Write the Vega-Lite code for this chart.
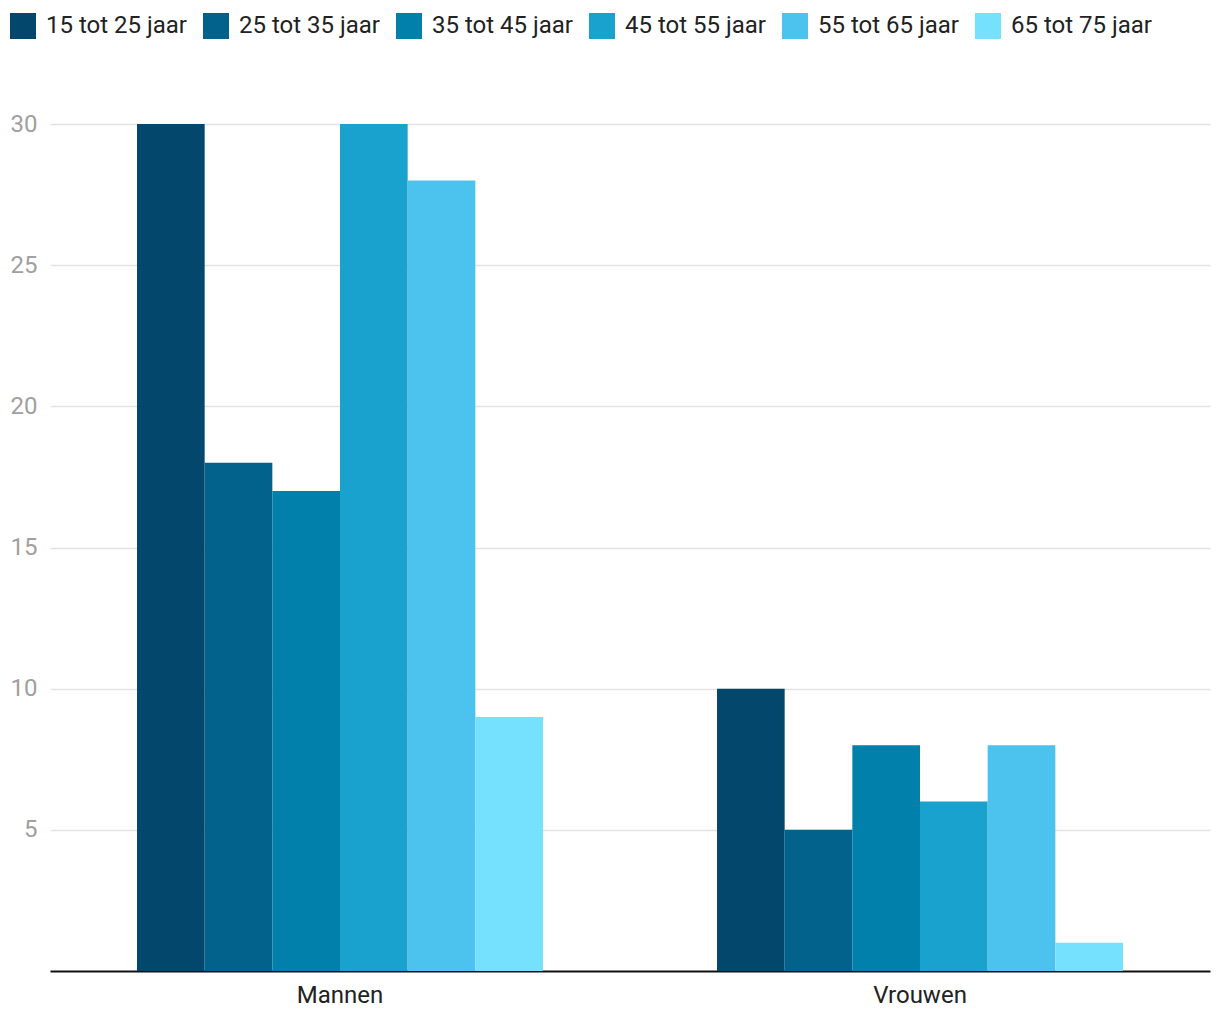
{
  "$schema": "https://vega.github.io/schema/vega-lite/v6.json",
  "width": 1160,
  "height": 847,
  "autosize": {"type": "none"},
  "padding": {"left": 50, "top": 124, "right": 10, "bottom": 49},
  "background": "#ffffff",
  "config": {
    "font": "Roboto",
    "view": {"stroke": null}
  },
  "data": {
    "values": [
      {"geslacht": "Mannen", "leeftijd": "15 tot 25 jaar", "waarde": 30},
      {"geslacht": "Mannen", "leeftijd": "25 tot 35 jaar", "waarde": 18},
      {"geslacht": "Mannen", "leeftijd": "35 tot 45 jaar", "waarde": 17},
      {"geslacht": "Mannen", "leeftijd": "45 tot 55 jaar", "waarde": 30},
      {"geslacht": "Mannen", "leeftijd": "55 tot 65 jaar", "waarde": 28},
      {"geslacht": "Mannen", "leeftijd": "65 tot 75 jaar", "waarde": 9},
      {"geslacht": "Vrouwen", "leeftijd": "15 tot 25 jaar", "waarde": 10},
      {"geslacht": "Vrouwen", "leeftijd": "25 tot 35 jaar", "waarde": 5},
      {"geslacht": "Vrouwen", "leeftijd": "35 tot 45 jaar", "waarde": 8},
      {"geslacht": "Vrouwen", "leeftijd": "45 tot 55 jaar", "waarde": 6},
      {"geslacht": "Vrouwen", "leeftijd": "55 tot 65 jaar", "waarde": 8},
      {"geslacht": "Vrouwen", "leeftijd": "65 tot 75 jaar", "waarde": 1}
    ]
  },
  "mark": {"type": "bar"},
  "encoding": {
    "x": {
      "field": "geslacht",
      "type": "nominal",
      "scale": {"paddingInner": 0.3, "paddingOuter": 0.15},
      "axis": {
        "title": null,
        "labelAngle": 0,
        "labelFontSize": 24,
        "labelColor": "#222222",
        "labelPadding": 12,
        "ticks": false,
        "domainColor": "#111111",
        "domainWidth": 2
      }
    },
    "xOffset": {
      "field": "leeftijd",
      "type": "nominal",
      "scale": {"paddingInner": 0, "paddingOuter": 0}
    },
    "y": {
      "field": "waarde",
      "type": "quantitative",
      "scale": {"domain": [0, 30], "nice": false},
      "axis": {
        "title": null,
        "values": [5, 10, 15, 20, 25, 30],
        "domain": false,
        "ticks": false,
        "labelFontSize": 24,
        "labelColor": "#a0a0a0",
        "labelPadding": 13,
        "gridColor": "#e2e2e2",
        "gridWidth": 1.5
      }
    },
    "color": {
      "field": "leeftijd",
      "type": "nominal",
      "scale": {
        "domain": ["15 tot 25 jaar", "25 tot 35 jaar", "35 tot 45 jaar", "45 tot 55 jaar", "55 tot 65 jaar", "65 tot 75 jaar"],
        "range": ["#03476d", "#02628b", "#0180ab", "#1aa2cf", "#4cc2ee", "#76e0ff"]
      },
      "legend": {
        "title": null,
        "orient": "none",
        "direction": "horizontal",
        "legendX": -40,
        "legendY": -111,
        "symbolType": "square",
        "symbolSize": 676,
        "symbolStrokeWidth": 0,
        "symbolOpacity": 1,
        "labelFontSize": 24,
        "labelColor": "#222222",
        "labelOffset": 10,
        "columnPadding": 16,
        "labelLimit": 300
      }
    }
  }
}
